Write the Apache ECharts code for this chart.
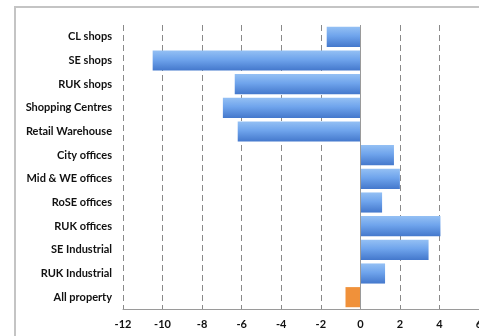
<!DOCTYPE html>
<html>
<head>
<meta charset="utf-8">
<script src="https://cdn.jsdelivr.net/npm/echarts@6/dist/echarts.min.js"></script>
<style>
  html, body { margin: 0; padding: 0; background: #fff; }
  #chart { width: 479px; height: 336px; }
</style>
</head>
<body>
<div id="chart"></div>
<script>
// categories, top to bottom
var categories = ["CL shops", "SE shops", "RUK shops", "Shopping Centres", "Retail Warehouse",
  "City offices", "Mid & WE offices", "RoSE offices", "RUK offices", "SE Industrial",
  "RUK Industrial", "All property"];
var values = [-1.7, -10.5, -6.35, -6.95, -6.2, 1.7, 2.0, 1.1, 4.05, 3.45, 1.25, -0.75];
var xTicks = [-12, -10, -8, -6, -4, -2, 0, 2, 4, 6];

var blue = new echarts.graphic.LinearGradient(0, 0, 0, 1, [
  { offset: 0, color: "#94c0f4" },
  { offset: 0.45, color: "#6fa4ec" },
  { offset: 1, color: "#4478cc" }
]);
var orange = "#f0913a";

var chart = echarts.init(document.getElementById("chart"));
var labelFont = { fontFamily: "Lato", fontWeight: "bold", fontSize: 11, color: "#111" };

var option = {
  animation: false,
  graphic: [{
    type: "rect",
    shape: { x: 15, y: 7, width: 600, height: 500 },
    style: { fill: "none", stroke: "#c4c4c4", lineWidth: 2 }
  }],
  grid: { left: 123, top: 25, width: 356, height: 284, outerBoundsMode: "none", containLabel: false },
  xAxis: {
    type: "value",
    min: xTicks[0],
    max: xTicks[xTicks.length - 1],
    interval: 2,
    axisLine: { show: true, lineStyle: { color: "#9a9a9a", width: 1 } },
    axisTick: { show: false },
    axisLabel: Object.assign({ margin: 10 }, labelFont),
    splitLine: { show: true, lineStyle: { color: "#8a8a8a", type: [6, 4], width: 1 } }
  },
  yAxis: {
    type: "category",
    inverse: true,
    data: categories,
    axisLine: { show: false, onZero: false },
    axisTick: { show: false },
    axisLabel: Object.assign({ margin: 11 }, labelFont)
  },
  series: [{
    type: "bar",
    barCategoryGap: "15%",
    data: values.map(function (v, i) {
      return { value: v, itemStyle: { color: i === values.length - 1 ? orange : blue } };
    }),
    markLine: {
      silent: true,
      symbol: "none",
      label: { show: false },
      lineStyle: { color: "#9a9a9a", type: "solid", width: 1 },
      data: [{ xAxis: 0 }]
    }
  }]
};
chart.setOption(option);
</script>
</body>
</html>
